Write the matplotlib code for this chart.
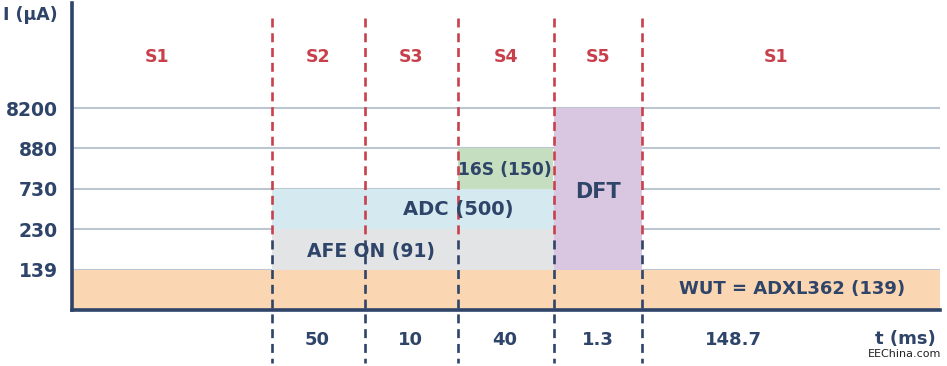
import numpy as np
import matplotlib
matplotlib.use("Agg")
import matplotlib.pyplot as plt

plt.rcParams.update({
    "font.family": ["DejaVu Sans"],
    "font.weight": "bold",
})

NAVY = "#2e4468"
RED = "#c8404b"
GRID = "#bcc6d1"

# current levels (categorical, evenly spaced on the y axis)
levels = ["139", "230", "730", "880", "8200"]

# schematic time axis: segment boundaries (not proportional to duration)
bounds = [0, 200, 293, 386, 482, 570, 868]
states = ["S1", "S2", "S3", "S4", "S5", "S1"]
durations = ["", "50", "10", "40", "1.3", "148.7"]

# blocks: label, x start, x end, level bottom, level top
blocks = [
    ("WUT = ADXL362 (139)", 0, 868, 0, 1, "#fbd6b2"),
    ("AFE ON (91)", 200, 482, 1, 2, "#e3e4e6"),
    ("ADC (500)", 200, 482, 2, 3, "#d4e9f0"),
    ("16S (150)", 386, 481, 3, 4, "#c6dec0"),
    ("DFT", 482, 570, 1, 5, "#d9c6e0"),
]

# layout for labels
block_text_xy = [(720, 0.52), (299, 1.45), (386, 2.48), (433, 3.47), (526, 2.92)]
block_text_size = [13, 13.5, 14, 12.3, 15]
state_x = [85, 246, 339, 434, 526, 704]
dur_x = [0, 245, 338, 433, 526, 661]

fig = plt.figure(figsize=(9.47, 3.66), dpi=100)
ax = fig.add_axes([72 / 947, 56 / 366, 868 / 947, 307 / 366])
ax.set_xlim(0, 868)
ax.set_ylim(0, 7.6)

# grid lines at each level
for i in range(1, len(levels) + 1):
    ax.axhline(i, color=GRID, lw=1.5, zorder=1)

for (label, x0, x1, lo, hi, col), (tx, ty), fs in zip(blocks, block_text_xy, block_text_size):
    ax.bar(x0, hi - lo, width=x1 - x0, bottom=lo, align="edge", color=col,
           linewidth=0, zorder=2)
    ax.text(tx, ty, label, ha="center", va="center", color=NAVY, fontsize=fs,
            fontweight="bold", zorder=4)

# dashed phase boundaries
for xb in bounds[1:-1]:
    ax.plot([xb, xb], [7.23, 1.73], color=RED, lw=1.9, dashes=(3.4, 2.2),
            zorder=3, clip_on=False)
    ax.plot([xb, xb], [1.73, -1.3], color=NAVY, lw=1.9, dashes=(3.4, 2.2),
            zorder=3, clip_on=False)

for s, x in zip(states, state_x):
    ax.text(x, 6.26, s, ha="center", va="center", color=RED, fontsize=12.5,
            fontweight="bold")

for d, x in zip(durations, dur_x):
    if d:
        ax.text(x, -0.74, d, ha="center", va="center", color=NAVY, fontsize=13,
                fontweight="bold", clip_on=False)

ax.text(833, -0.72, "t (ms)", ha="center", va="center", color=NAVY,
        fontsize=13, fontweight="bold", clip_on=False)
ax.text(-42, 7.3, "I (µA)", ha="center", va="center", color=NAVY,
        fontsize=12.5, fontweight="bold", clip_on=False)
ax.text(833, -1.08, "EEChina.com", ha="center", va="center", color="#222222",
        fontsize=8, fontweight="normal", clip_on=False)

ax.set_yticks(np.arange(1, len(levels) + 1))
ax.set_yticklabels(levels, fontsize=13.5, fontweight="bold", color=NAVY)
ax.tick_params(axis="y", length=0, pad=10)
ax.set_xticks([])

for side in ["top", "right"]:
    ax.spines[side].set_visible(False)
for side in ["left", "bottom"]:
    ax.spines[side].set_color(NAVY)
    ax.spines[side].set_linewidth(2.6)
    ax.spines[side].set_zorder(5)

fig.savefig("out.png", dpi=100)
